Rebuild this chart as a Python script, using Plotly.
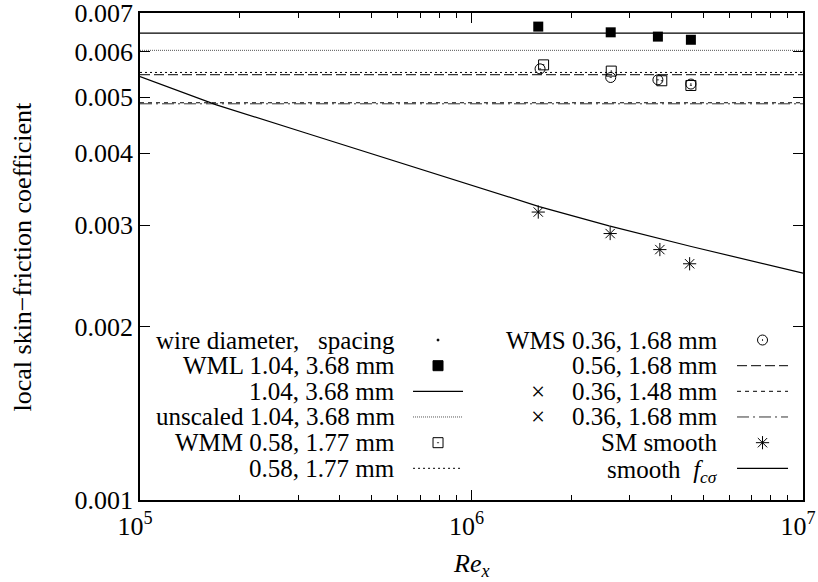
import math
import plotly.graph_objects as go

# ---------------- data ----------------
re_wml = [1.59e6, 2.63e6, 3.65e6, 4.59e6]
cf_wml = [0.00663, 0.00648, 0.00637, 0.00629]

re_wmm = [1.65e6, 2.64e6, 3.75e6, 4.59e6]
cf_wmm = [0.00569, 0.00555, 0.00534, 0.00524]

re_wms = [1.61e6, 2.63e6, 3.65e6, 4.59e6]
cf_wms = [0.00560, 0.00541, 0.00536, 0.00527]

re_sm = [1.59e6, 2.62e6, 3.70e6, 4.55e6]
cf_sm = [0.00316, 0.00290, 0.00272, 0.00257]

re_smooth = [1e5, 1.7e5, 3.18e5, 1.06e6, 1.6e6, 2.6e6, 4.6e6, 1e7]
cf_smooth = [0.00543, 0.00485, 0.00433, 0.003477, 0.00323, 0.00299, 0.002754, 0.002475]

re_span = [1e5, 1e7]
cf_const_104_368 = 0.00646
cf_const_unscaled = 0.00603
cf_const_058_177 = 0.00552
cf_const_056_168 = 0.00547
cf_const_036_148 = 0.00489
cf_const_036_168 = 0.00487

y_tick_vals = [0.001, 0.002, 0.003, 0.004, 0.005, 0.006, 0.007]
y_tick_text = ["0.001", "0.002", "0.003", "0.004", "0.005", "0.006", "0.007"]
x_tick_vals = [1e5, 1e6, 1e7]
x_tick_text = ["10<sup>5</sup>", "10<sup>6</sup>", "10<sup>7</sup>"]
x_minor_vals = [k * 10**e for e in (5, 6) for k in range(2, 10)]

left_labels = ["wire diameter,\u00a0\u00a0 spacing", "WML 1.04, 3.68 mm", "1.04, 3.68 mm",
               "unscaled 1.04, 3.68 mm", "WMM 0.58, 1.77 mm", "0.58, 1.77 mm"]
right_labels = ["WMS 0.36, 1.68 mm", "0.56, 1.68 mm", "0.36, 1.48 mm",
                "0.36, 1.68 mm", "SM smooth", "smooth\u00a0 <i>f</i><sub><i>c\u03c3</i></sub>"]

# ---------------- styling ----------------
FONT = "Liberation Serif"
BLACK = "#000000"
W, H = 818, 582
ML, MR, MT, MB = 140, 15, 13, 82
FS = 26
LFS = 25

# legend geometry (in plot fraction)
rows = [0.3285, 0.2758, 0.2232, 0.1705, 0.1177, 0.0651]
L_TEXT_X, L_S0, L_S1 = 0.3876, 0.4118, 0.4872
R_TEXT_X, R_S0, R_S1 = 0.8748, 0.9005, 0.9774
CROSS_X = 0.6003

fig = go.Figure()

def hline(y, dash, width=1.0, color=BLACK):
    fig.add_trace(go.Scatter(x=re_span, y=[y, y], mode="lines",
                             line=dict(color=color, width=width, dash=dash),
                             showlegend=False, hoverinfo="skip"))

hline(cf_const_104_368, "solid", 1.2)
hline(cf_const_unscaled, "1px,1px", 1.0, "#555555")
hline(cf_const_058_177, "2px,3px", 1.0)
hline(cf_const_056_168, "10px,4px", 1.0)
hline(cf_const_036_148, "4px,4px", 1.0)
hline(cf_const_036_168, "12px,4px,2px,4px", 1.0, "#333333")

fig.add_trace(go.Scatter(x=re_smooth, y=cf_smooth, mode="lines",
                         line=dict(color=BLACK, width=1.2), showlegend=False))

fig.add_trace(go.Scatter(x=re_wml, y=cf_wml, mode="markers",
                         marker=dict(symbol="square", size=10, color=BLACK), showlegend=False))
fig.add_trace(go.Scatter(x=re_wmm, y=cf_wmm, mode="markers",
                         marker=dict(symbol="square-open-dot", size=10, color=BLACK,
                                     line=dict(width=1, color=BLACK)), showlegend=False))
fig.add_trace(go.Scatter(x=re_wms, y=cf_wms, mode="markers",
                         marker=dict(symbol="circle-open-dot", size=10, color=BLACK,
                                     line=dict(width=1, color=BLACK)), showlegend=False))
fig.add_trace(go.Scatter(x=re_sm, y=cf_sm, mode="markers",
                         marker=dict(symbol="asterisk-open", size=11, color=BLACK,
                                     line=dict(width=1, color=BLACK)), showlegend=False))

# ---------------- legend key samples (overlay axes 0..1) ----------------
def key_line(x0, x1, y, dash, width=1.0, color=BLACK):
    fig.add_trace(go.Scatter(x=[x0, x1], y=[y, y], xaxis="x2", yaxis="y2", mode="lines",
                             line=dict(color=color, width=width, dash=dash),
                             showlegend=False, hoverinfo="skip"))

def key_marker(x, y, symbol, size):
    fig.add_trace(go.Scatter(x=[x], y=[y], xaxis="x2", yaxis="y2", mode="markers",
                             marker=dict(symbol=symbol, size=size, color=BLACK,
                                         line=dict(width=1, color=BLACK)),
                             showlegend=False, hoverinfo="skip"))

lc = (L_S0 + L_S1) / 2
rc = (R_S0 + R_S1) / 2
key_marker(lc, rows[0], "circle", 2)
key_marker(lc, rows[1], "square", 10)
key_line(L_S0, L_S1, rows[2], "solid", 1.2)
key_line(L_S0, L_S1, rows[3], "1px,1px", 1.0, "#555555")
key_marker(lc, rows[4], "square-open-dot", 10)
key_line(L_S0, L_S1, rows[5], "2px,3px", 1.0)

key_marker(rc, rows[0], "circle-open-dot", 10)
key_line(R_S0, R_S1, rows[1], "10px,4px", 1.0)
key_line(R_S0, R_S1, rows[2], "4px,4px", 1.0)
key_line(R_S0, R_S1, rows[3], "12px,4px,2px,4px", 1.0, "#333333")
key_marker(rc, rows[4], "asterisk-open", 11)
key_line(R_S0, R_S1, rows[5], "solid", 1.2)

annotations = []
for lab, y in zip(left_labels, rows):
    annotations.append(dict(x=L_TEXT_X, y=y, xref="paper", yref="paper", text=lab,
                            showarrow=False, xanchor="right", yanchor="middle",
                            font=dict(family=FONT, size=LFS, color=BLACK)))
for lab, y in zip(right_labels[:-1], rows[:-1]):
    annotations.append(dict(x=R_TEXT_X, y=y, xref="paper", yref="paper", text=lab,
                            showarrow=False, xanchor="right", yanchor="middle",
                            font=dict(family=FONT, size=LFS, color=BLACK)))
annotations.append(dict(x=R_TEXT_X, y=rows[-1], xref="paper", yref="paper", text=right_labels[-1],
                        showarrow=False, xanchor="right", yanchor="middle", yshift=-3,
                        font=dict(family=FONT, size=LFS, color=BLACK)))
for y in (rows[2], rows[3]):
    annotations.append(dict(x=CROSS_X, y=y, xref="paper", yref="paper", text="\u00d7",
                            showarrow=False, xanchor="center", yanchor="middle",
                            font=dict(family=FONT, size=LFS, color=BLACK)))

annotations.append(dict(x=0.5, y=-(565 - (H - MB)) / (H - MT - MB), xref="paper", yref="paper",
                        text="<i>Re</i><sub><i>x</i></sub>", showarrow=False,
                        xanchor="center", yanchor="middle",
                        font=dict(family=FONT, size=FS, color=BLACK)))
annotations.append(dict(x=-(ML - 22) / (W - ML - MR), y=0.5, xref="paper", yref="paper",
                        text="local skin\u2212friction coefficient", showarrow=False,
                        textangle=-90, xanchor="center", yanchor="middle",
                        font=dict(family=FONT, size=FS, color=BLACK)))

fig.update_layout(
    width=W, height=H,
    margin=dict(l=ML, r=MR, t=MT, b=MB, autoexpand=False),
    paper_bgcolor="white", plot_bgcolor="white",
    showlegend=False,
    font=dict(family=FONT, size=FS, color=BLACK),
    xaxis=dict(type="log", range=[5, 7.00001], tickmode="array", tickvals=x_tick_vals,
               ticktext=x_tick_text, ticks="inside", ticklen=10, tickwidth=1,
               tickcolor=BLACK, showline=True, linecolor=BLACK, linewidth=1.5,
               mirror="allticks", showgrid=False, zeroline=False, automargin=False,
               ticklabeloverflow="allow", ticklabelshift=-5, ticklabelstandoff=2,
               tickfont=dict(family=FONT, size=FS, color=BLACK),
               minor=dict(tickmode="array", tickvals=x_minor_vals, ticks="inside",
                          ticklen=5, tickwidth=1, tickcolor=BLACK, showgrid=False)),
    yaxis=dict(type="log", range=[-3, math.log10(0.007) + 1e-5], tickmode="array",
               tickvals=y_tick_vals, ticktext=y_tick_text, ticks="inside", ticklen=10,
               tickwidth=1, tickcolor=BLACK, showline=True, linecolor=BLACK,
               linewidth=1.5, mirror="allticks", showgrid=False, zeroline=False,
               automargin=False, ticklabeloverflow="allow",
               tickfont=dict(family=FONT, size=FS, color=BLACK)),
    xaxis2=dict(overlaying="x", range=[0, 1], visible=False, fixedrange=True),
    yaxis2=dict(overlaying="y", range=[0, 1], visible=False, fixedrange=True),
    annotations=annotations,
)

fig.write_html("out.html")
